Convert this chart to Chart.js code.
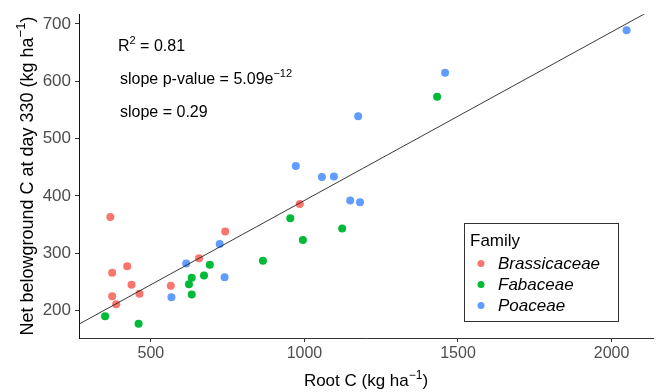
<!DOCTYPE html>
<html>
<head>
<meta charset="utf-8">
<script src="https://cdn.jsdelivr.net/npm/chart.js@4.4.1/dist/chart.umd.min.js"></script>
<style>
  html, body { margin: 0; padding: 0; background: #fff; }
</style>
</head>
<body>
<canvas id="rootChart" width="657" height="392"></canvas>
<script>
// values
const brassicaX = [368, 742, 657, 423, 374, 437, 565, 463, 374, 387, 985];
const brassicaY = [363, 338, 291, 277, 266, 245, 243, 229, 225, 211, 386];

const fabaX = [692, 633, 673, 624, 633, 351, 460, 954, 1123, 995, 865, 1432];
const fabaY = [280, 257, 261, 246, 228, 190, 177, 361, 343, 323, 287, 573];

const poaX = [615, 724, 740, 567, 972, 1057, 1096, 1149, 1181, 1458, 2049, 1175];
const poaY = [282, 316, 258, 223, 452, 433, 434, 392, 389, 615, 689, 539];

const families = ['Brassicaceae', 'Fabaceae', 'Poaceae'];
const familyColors = ['#F8766D', '#00BA38', '#619CFF'];

const xTicks = [500, 1000, 1500, 2000];
const yTicks = [200, 300, 400, 500, 600, 700];
const xRange = [266, 2135];
const yRange = [152, 717];

// fitted line
const fitIntercept = 98;
const fitSlope = 0.294;

const r2Text = '0.81';
const pValueText = '5.09e';
const pValueExp = '\u221212';
const slopeText = '0.29';

const FONT = '"Liberation Sans", Arial, sans-serif';

function toPoints(xs, ys) {
  return xs.map((x, i) => ({ x: x, y: ys[i] }));
}

const fitLine = xRange.map(x => ({ x: x, y: fitIntercept + fitSlope * x }));

// draws text pieces, some of them as superscripts
function drawRich(ctx, parts, x, y, size) {
  let cx = x;
  parts.forEach(p => {
    if (p.sup) {
      ctx.font = `${Math.round(size * 0.7)}px ${FONT}`;
      ctx.fillText(p.t, cx, y - size * 0.42);
    } else {
      ctx.font = `${size}px ${FONT}`;
      ctx.fillText(p.t, cx, y);
    }
    cx += ctx.measureText(p.t).width;
  });
  return cx - x;
}

function richWidth(ctx, parts, size) {
  let w = 0;
  parts.forEach(p => {
    ctx.font = p.sup ? `${Math.round(size * 0.7)}px ${FONT}` : `${size}px ${FONT}`;
    w += ctx.measureText(p.t).width;
  });
  return w;
}

const extrasPlugin = {
  id: 'extras',
  afterDraw(chart) {
    const ctx = chart.ctx;
    const area = chart.chartArea;
    ctx.save();
    ctx.fillStyle = '#000';
    ctx.textBaseline = 'alphabetic';
    ctx.textAlign = 'left';

    // stats text
    drawRich(ctx, [{ t: 'R' }, { t: '2', sup: true }, { t: ' = ' + r2Text }], 118, 51, 16);
    drawRich(ctx, [{ t: 'slope p-value = ' + pValueText }, { t: pValueExp, sup: true }], 120, 84, 16);
    drawRich(ctx, [{ t: 'slope = ' + slopeText }], 120, 117, 16);

    // axis titles
    const xTitle = [{ t: 'Root C (kg ha' }, { t: '\u22121', sup: true }, { t: ')' }];
    const xw = richWidth(ctx, xTitle, 17);
    drawRich(ctx, xTitle, (area.left + area.right) / 2 - xw / 2, 386, 17);

    const yTitle = [{ t: 'Net belowground C at day 330 (kg ha' }, { t: '\u22121', sup: true }, { t: ')' }];
    const yw = richWidth(ctx, yTitle, 18);
    ctx.save();
    ctx.translate(33, (area.top + area.bottom) / 2);
    ctx.rotate(-Math.PI / 2);
    drawRich(ctx, yTitle, -yw / 2, 0, 18);
    ctx.restore();

    // legend box
    ctx.fillStyle = '#fff';
    ctx.fillRect(464, 223, 154, 98);
    ctx.strokeStyle = '#333';
    ctx.lineWidth = 1;
    ctx.strokeRect(464.5, 223.5, 154, 98);
    ctx.fillStyle = '#000';
    ctx.font = `17px ${FONT}`;
    ctx.fillText('Family', 470, 246);
    families.forEach((name, i) => {
      const cy = 263.5 + i * 21;
      ctx.beginPath();
      ctx.fillStyle = familyColors[i];
      ctx.arc(481, cy, 3.5, 0, Math.PI * 2);
      ctx.fill();
      ctx.fillStyle = '#000';
      ctx.font = `italic 17px ${FONT}`;
      ctx.textBaseline = 'middle';
      ctx.fillText(name, 498, cy + 1);
      ctx.textBaseline = 'alphabetic';
    });
    ctx.restore();
  }
};

const ctx = document.getElementById('rootChart').getContext('2d');
const rootChart = new Chart(ctx, {
  type: 'scatter',
  data: {
    datasets: [
      {
        type: 'line',
        data: fitLine,
        borderColor: '#222',
        borderWidth: 0.9,
        pointRadius: 0,
        fill: false
      },
      {
        label: families[0],
        data: toPoints(brassicaX, brassicaY),
        backgroundColor: familyColors[0],
        borderWidth: 0,
        pointRadius: 4
      },
      {
        label: families[1],
        data: toPoints(fabaX, fabaY),
        backgroundColor: familyColors[1],
        borderWidth: 0,
        pointRadius: 4
      },
      {
        label: families[2],
        data: toPoints(poaX, poaY),
        backgroundColor: familyColors[2],
        borderWidth: 0,
        pointRadius: 4
      }
    ]
  },
  options: {
    responsive: false,
    animation: false,
    devicePixelRatio: 1,
    layout: { padding: { top: 8, right: 0, left: 0, bottom: 0 } },
    plugins: {
      legend: { display: false },
      tooltip: { enabled: false }
    },
    scales: {
      x: {
        type: 'linear',
        min: xRange[0],
        max: xRange[1],
        afterBuildTicks: scale => { scale.ticks = xTicks.map(v => ({ value: v })); },
        afterFit: scale => { scale.height = 54; },
        grid: { drawOnChartArea: false, tickLength: 4, color: '#333', lineWidth: 1 },
        border: { display: true, color: '#333', width: 1 },
        ticks: { color: '#4d4d4d', padding: 2, maxRotation: 0, callback: v => String(v), font: { family: FONT, size: 16 } }
      },
      y: {
        type: 'linear',
        min: yRange[0],
        max: yRange[1],
        afterBuildTicks: scale => { scale.ticks = yTicks.map(v => ({ value: v })); },
        afterFit: scale => { scale.width = 79; },
        grid: { drawOnChartArea: false, tickLength: 4, color: '#333', lineWidth: 1 },
        border: { display: true, color: '#111', width: 1 },
        ticks: { color: '#4d4d4d', padding: 4, callback: v => String(v), font: { family: FONT, size: 17 } }
      }
    }
  },
  plugins: [extrasPlugin]
});
</script>
</body>
</html>
